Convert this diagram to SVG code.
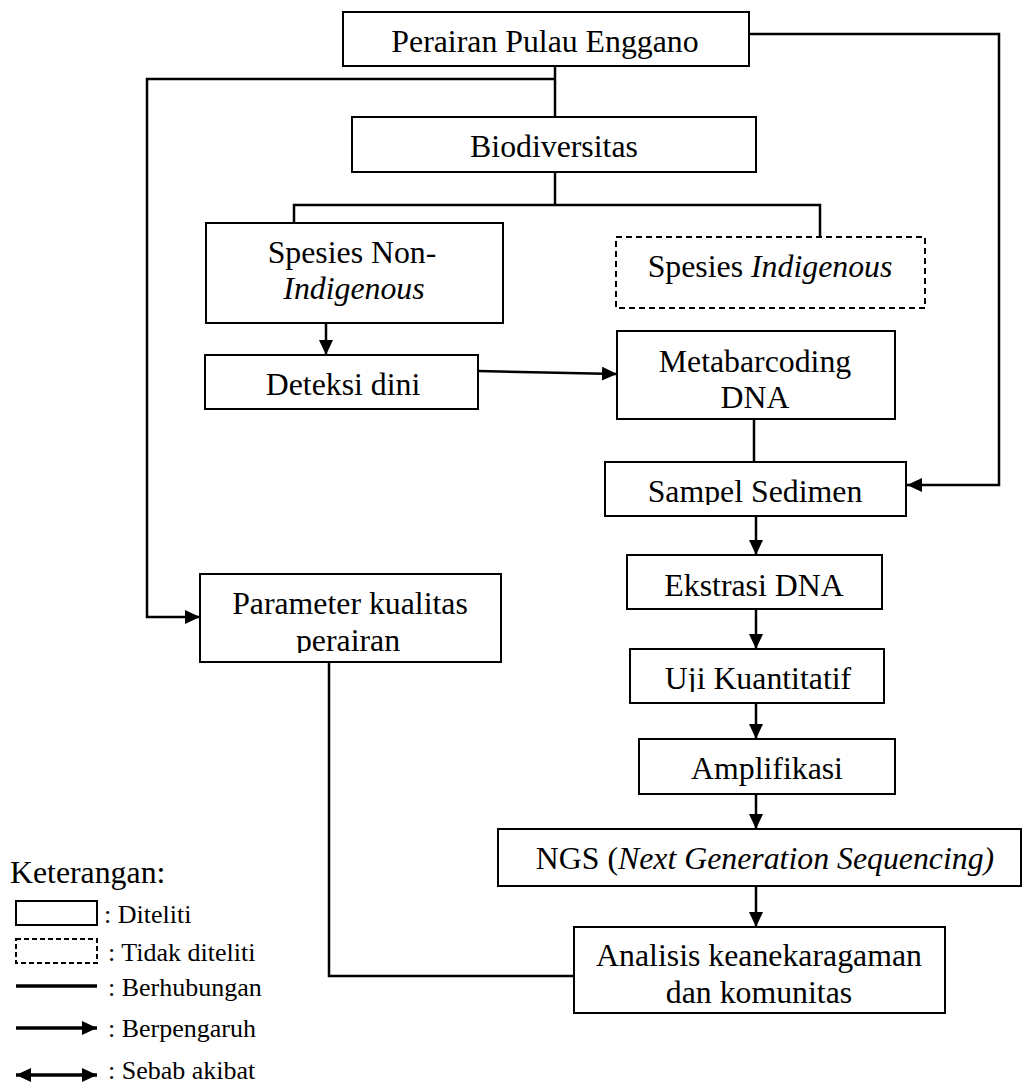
<svg xmlns="http://www.w3.org/2000/svg" width="1024" height="1085" viewBox="0 0 1024 1085">
<style>
.box{fill:#fff;stroke:#000;stroke-width:2}
.dash{fill:#fff;stroke:#000;stroke-width:2;stroke-dasharray:6 4}
.con{fill:none;stroke:#000;stroke-width:2.5}
.t{font-family:"Liberation Serif","Times New Roman",serif;font-size:31.8px;fill:#000;text-anchor:middle}
.lg{font-family:"Liberation Serif","Times New Roman",serif;font-size:26px;fill:#000}
.i{font-style:italic}
</style>
<defs>
<marker id="ah" markerUnits="userSpaceOnUse" markerWidth="15" markerHeight="14" refX="15" refY="7" orient="auto">
<path d="M0,0 L15,7 L0,14 z" fill="#000"/>
</marker>
<marker id="ahs" markerUnits="userSpaceOnUse" markerWidth="15" markerHeight="14" refX="0" refY="7" orient="auto">
<path d="M15,0 L0,7 L15,14 z" fill="#000"/>
</marker>
<clipPath id="cSampel"><rect x="605" y="462" width="301" height="43"/></clipPath>
<clipPath id="cUji"><rect x="630" y="649" width="254" height="43"/></clipPath>
<clipPath id="cParam"><rect x="200" y="574" width="301" height="79"/></clipPath>
</defs>
<rect width="1024" height="1085" fill="#fff"/>

<g id="connectors">
<path class="con" d="M749,34 H999 V485 H907" marker-end="url(#ah)"/>
<path class="con" d="M555,66 V117"/>
<path class="con" d="M555,79 H147 V617 H200" marker-end="url(#ah)"/>
<path class="con" d="M555,172 V205"/>
<path class="con" d="M294,223 V205 H820 V237"/>
<path class="con" d="M326,323 V355" marker-end="url(#ah)"/>
<path class="con" d="M478,371 L617,374" marker-end="url(#ah)"/>
<path class="con" d="M754,419 V462"/>
<path class="con" d="M756,516 V555" marker-end="url(#ah)"/>
<path class="con" d="M756,609 V649" marker-end="url(#ah)"/>
<path class="con" d="M756,703 V739" marker-end="url(#ah)"/>
<path class="con" d="M756,794 V829" marker-end="url(#ah)"/>
<path class="con" d="M756,886 V927" marker-end="url(#ah)"/>
<path class="con" d="M329,662 V976 H574"/>
</g>

<g id="perairan">
<rect class="box" x="343" y="12" width="406" height="54"/>
<text class="t" x="545" y="52">Perairan Pulau Enggano</text>
</g>
<g id="biodiversitas">
<rect class="box" x="352" y="117" width="404" height="55"/>
<text class="t" x="554" y="157">Biodiversitas</text>
</g>
<g id="spesies-non-indigenous">
<rect class="box" x="206" y="223" width="297" height="100"/>
<text class="t" x="352" y="263">Spesies Non-</text>
<text class="t i" x="354" y="299">Indigenous</text>
</g>
<g id="spesies-indigenous">
<rect class="dash" x="616" y="237" width="309" height="71"/>
<text class="t" x="770" y="277">Spesies <tspan class="i">Indigenous</tspan></text>
</g>
<g id="deteksi-dini">
<rect class="box" x="205" y="355" width="273" height="54"/>
<text class="t" x="343" y="395">Deteksi dini</text>
</g>
<g id="metabarcoding">
<rect class="box" x="617" y="331" width="278" height="88"/>
<text class="t" x="755" y="372">Metabarcoding</text>
<text class="t" x="755" y="408">DNA</text>
</g>
<g id="sampel-sedimen">
<rect class="box" x="605" y="462" width="301" height="54"/>
<text class="t" x="755" y="502" clip-path="url(#cSampel)">Sampel Sedimen</text>
</g>
<g id="parameter">
<rect class="box" x="200" y="574" width="301" height="88"/>
<g clip-path="url(#cParam)">
<text class="t" x="350" y="614">Parameter kualitas</text>
<text class="t" x="348" y="651">perairan</text>
</g>
</g>
<g id="ekstrasi-dna">
<rect class="box" x="627" y="555" width="255" height="54"/>
<text class="t" x="754" y="596">Ekstrasi DNA</text>
</g>
<g id="uji-kuantitatif">
<rect class="box" x="630" y="649" width="254" height="54"/>
<text class="t" x="758" y="689" clip-path="url(#cUji)">Uji Kuantitatif</text>
</g>
<g id="amplifikasi">
<rect class="box" x="639" y="739" width="256" height="55"/>
<text class="t" x="767" y="779">Amplifikasi</text>
</g>
<g id="ngs">
<rect class="box" x="498" y="829" width="523" height="57"/>
<text class="t" x="765" y="869">NGS (<tspan class="i">Next Generation Sequencing)</tspan></text>
</g>
<g id="analisis">
<rect class="box" x="574" y="927" width="371" height="86"/>
<text class="t" x="759" y="966">Analisis keanekaragaman</text>
<text class="t" x="759" y="1003">dan komunitas</text>
</g>

<g id="legend">
<text class="lg" x="10" y="883" style="font-size:31.8px">Keterangan:</text>
<rect class="box" x="16" y="901" width="81" height="24"/>
<text class="lg" x="104" y="923">: Diteliti</text>
<rect class="dash" x="16" y="939" width="81" height="24" style="stroke-dasharray:5 3"/>
<text class="lg" x="108" y="961">: Tidak diteliti</text>
<line x1="16" y1="986" x2="97" y2="986" stroke="#000" stroke-width="3.5"/>
<text class="lg" x="108" y="996">: Berhubungan</text>
<line x1="16" y1="1028" x2="97" y2="1028" stroke="#000" stroke-width="3.5" marker-end="url(#ah)"/>
<text class="lg" x="108" y="1037">: Berpengaruh</text>
<line x1="16" y1="1075" x2="97" y2="1075" stroke="#000" stroke-width="3.5" marker-start="url(#ahs)" marker-end="url(#ah)"/>
<text class="lg" x="108" y="1079">: Sebab akibat</text>
</g>
</svg>
